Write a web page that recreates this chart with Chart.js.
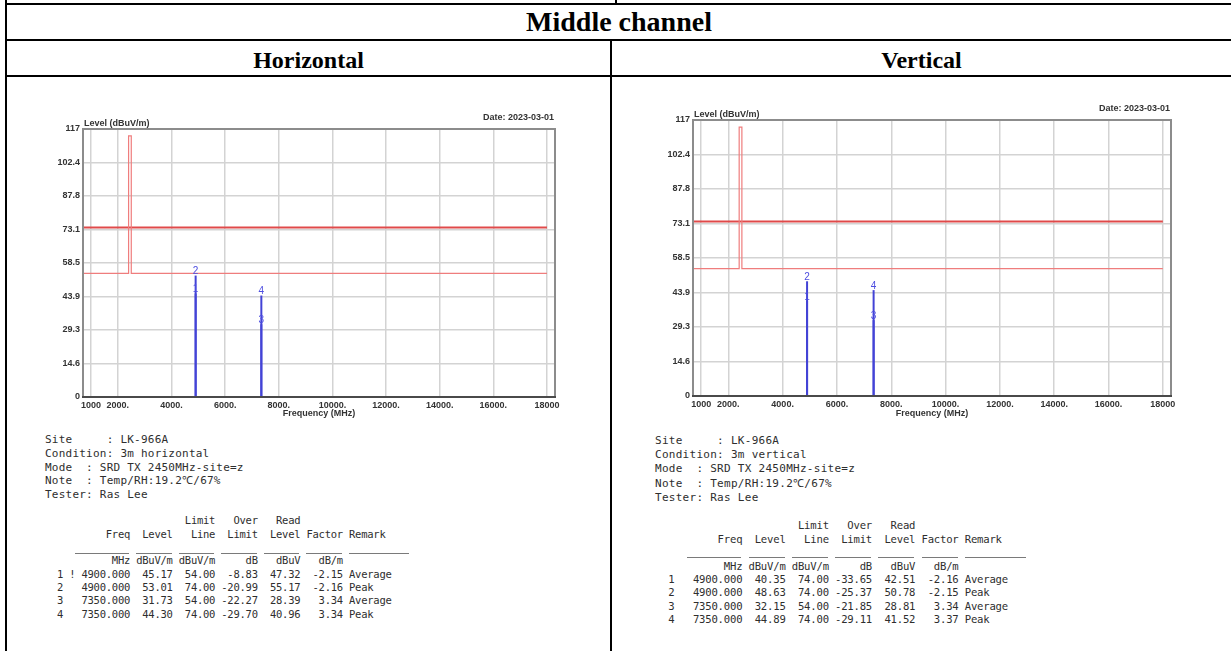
<!DOCTYPE html>
<html>
<head>
<meta charset="utf-8">
<script src="https://cdn.jsdelivr.net/npm/chart.js@4/dist/chart.umd.min.js"></script>
<style>
  html, body { margin: 0; padding: 0; background: #fff; }
  body { width: 1231px; height: 651px; position: relative; overflow: hidden; }
  .rule { position: absolute; background: #000; }
  .cap { position: absolute; font-family: "Liberation Serif", "Times New Roman", serif; font-weight: bold; color: #000; text-align: center; line-height: 1; white-space: nowrap; }
  canvas { position: absolute; }
  pre { position: absolute; margin: 0; font-family: "DejaVu Sans Mono", "Liberation Mono", monospace; color: #2e2e2e; white-space: pre; }
  .colrule { position: absolute; height: 1px; background: #7a7a7a; }
</style>
</head>
<body>
<!-- report table frame -->
<div class="rule" style="left:5px;top:0;width:2px;height:651px"></div>
<div class="rule" style="left:5px;top:3px;width:1226px;height:2px"></div>
<div class="rule" style="left:5px;top:39px;width:1226px;height:2px"></div>
<div class="rule" style="left:5px;top:75px;width:1226px;height:2px"></div>
<div class="rule" style="left:615px;top:0;width:2px;height:4px"></div>
<div class="rule" style="left:610px;top:40px;width:2px;height:611px"></div>

<div class="cap" style="left:7px;width:1224px;top:8px;font-size:28px">Middle channel</div>
<div class="cap" style="left:7px;width:603px;top:48px;font-size:24px">Horizontal</div>
<div class="cap" style="left:612px;width:619px;top:48px;font-size:24px">Vertical</div>

<canvas id="chartH" width="545" height="325" style="left:30px;top:100px"></canvas>
<canvas id="chartV" width="545" height="335" style="left:640px;top:90px"></canvas>

<pre id="infoH" style="left:45px;top:433px;font-size:11px;letter-spacing:0.23px;line-height:13.75px"></pre>
<pre id="infoV" style="left:655px;top:433.5px;font-size:11px;letter-spacing:0.28px;line-height:14.4px"></pre>
<pre id="tableH" style="left:51px;top:514.3px;font-size:10.5px;letter-spacing:-0.24px;line-height:13.35px"></pre>
<pre id="tableV" style="left:662px;top:519.3px;font-size:10.6px;letter-spacing:-0.2px;line-height:13.4px"></pre>

<script>
// Axis ticks
const xTickValues = [1000, 2000, 4000, 6000, 8000, 10000, 12000, 14000, 16000, 18000];
const xTickLabels = ['1000', '2000.', '4000.', '6000.', '8000.', '10000.', '12000.', '14000.', '16000.', '18000'];
const yTickValues = [0, 14.625, 29.25, 43.875, 58.5, 73.125, 87.75, 102.375, 117];
const yTickLabels = ['0', '14.6', '29.3', '43.9', '58.5', '73.1', '87.8', '102.4', '117'];

// Limit lines (MHz / dBuV/m)
const peakLimitFreq = [700, 18000];
const peakLimitLevel = [74, 74];
const avgLimitFreq = [700, 2400, 2400, 2500, 2500, 18000];
const avgLimitLevel = [54, 54, 114, 114, 54, 54];

// Marker readings, horizontal polarisation
const markerNo = ['1', '2', '3', '4'];
const markerFlagH = ['!', '', '', ''];
const markerFlagV = ['', '', '', ''];
const remark = ['Average', 'Peak', 'Average', 'Peak'];
const freqH = [4900, 4900, 7350, 7350];
const levelH = [45.17, 53.01, 31.73, 44.30];
const limitH = [54.00, 74.00, 54.00, 74.00];
const overH = [-8.83, -20.99, -22.27, -29.70];
const readH = [47.32, 55.17, 28.39, 40.96];
const factorH = [-2.15, -2.16, 3.34, 3.34];

// Marker readings, vertical polarisation
const freqV = [4900, 4900, 7350, 7350];
const levelV = [40.35, 48.63, 32.15, 44.89];
const limitV = [74.00, 74.00, 54.00, 74.00];
const overV = [-33.65, -25.37, -21.85, -29.11];
const readV = [42.51, 50.78, 28.81, 41.52];
const factorV = [-2.16, -2.15, 3.34, 3.37];

const chartFont = '"Liberation Sans", Arial, sans-serif';
const textColor = '#333';

const decorPlugin = {
  id: 'decor',
  afterDraw(chart, args, opts) {
    const { ctx, chartArea: a } = chart;
    const xs = chart.scales.x, ys = chart.scales.y;
    ctx.save();
    // plot frame
    ctx.lineWidth = 2;
    ctx.strokeStyle = '#8c8c8c';
    ctx.strokeRect(a.left, a.top, a.right - a.left, a.bottom - a.top);
    ctx.strokeStyle = '#4a4a4a';
    ctx.beginPath();
    ctx.moveTo(a.left - 1, a.bottom);
    ctx.lineTo(a.right + 1, a.bottom);
    ctx.stroke();
    // header texts
    ctx.fillStyle = textColor;
    ctx.font = 'bold 9px ' + chartFont;
    ctx.textBaseline = 'middle';
    ctx.textAlign = 'left';
    ctx.fillText('Level (dBuV/m)', a.left + 1, a.top - 5);
    ctx.textAlign = 'right';
    ctx.fillText('Date: 2023-03-01', a.right - 1, a.top - 11);
    // marker numbers
    ctx.fillStyle = '#4d4de0';
    ctx.font = '10px ' + chartFont;
    ctx.textAlign = 'center';
    ctx.textBaseline = 'bottom';
    opts.freq.forEach((f, i) => {
      ctx.fillText(markerNo[i], xs.getPixelForValue(f), ys.getPixelForValue(opts.level[i]) + 1);
    });
    ctx.restore();
  }
};

function pairs(xv, yv) {
  return xv.map((x, i) => ({ x: x, y: yv[i] }));
}

function buildChart(id, freq, level, g) {
  const datasets = [
    { data: pairs(avgLimitFreq, avgLimitLevel), borderColor: '#ef7d7d', borderWidth: 1.2 },
    { data: pairs(peakLimitFreq, peakLimitLevel), borderColor: '#e04a4a', borderWidth: 2 }
  ];
  freq.forEach((f, i) => {
    datasets.push({ data: [{ x: f, y: 0 }, { x: f, y: level[i] }], borderColor: '#4343d6', borderWidth: 2 });
  });
  datasets.forEach(d => { d.showLine = true; d.pointRadius = 0; d.fill = false; });

  const tickFont = { family: chartFont, size: 9, weight: 'bold' };
  return new Chart(document.getElementById(id), {
    type: 'scatter',
    data: { datasets },
    options: {
      responsive: false,
      animation: false,
      events: [],
      layout: { padding: { top: g.top, right: g.right, left: 0, bottom: 0 } },
      plugins: {
        legend: { display: false },
        tooltip: { enabled: false },
        decor: { freq: freq, level: level }
      },
      scales: {
        x: {
          type: 'linear', min: 700, max: 18300,
          afterBuildTicks: s => { s.ticks = xTickValues.map(v => ({ value: v })); },
          afterFit: s => { s.height = g.xh; },
          ticks: { autoSkip: false, maxRotation: 0, padding: 3, font: tickFont, color: textColor,
                   callback: (v, i) => xTickLabels[i] },
          grid: { color: '#d3d3d3', lineWidth: 1.5, drawTicks: false },
          border: { display: false },
          title: { display: true, text: 'Frequency (MHz)', color: textColor, font: tickFont,
                   padding: { top: 0, bottom: 6 } }
        },
        y: {
          type: 'linear', min: 0, max: 117,
          afterBuildTicks: s => { s.ticks = yTickValues.map(v => ({ value: v })); },
          afterFit: s => { s.width = g.yw; },
          ticks: { autoSkip: false, padding: 3, font: tickFont, color: textColor,
                   callback: (v, i) => yTickLabels[i] },
          grid: { color: '#d3d3d3', lineWidth: 1.5, drawTicks: false },
          border: { display: false }
        }
      }
    },
    plugins: [decorPlugin]
  });
}

buildChart('chartH', freqH, levelH, { top: 29, right: 20, yw: 53, xh: 28 });
buildChart('chartV', freqV, levelV, { top: 30, right: 14, yw: 53, xh: 29 });

// Text blocks below the plots
function infoLines(cond) {
  return [
    'Site     : LK-966A',
    'Condition: ' + cond,
    'Mode  : SRD TX 2450MHz-site=z',
    'Note  : Temp/RH:19.2\u2103/67%',
    'Tester: Ras Lee'
  ].join('\n');
}

// column rules under the table header: [start column, width in characters]
const ruleSegments = [[4, 9], [14, 6], [21, 6], [28, 6], [35, 6], [42, 6], [49, 10]];

function tableText(flag, freq, level, limit, over, read, factor) {
  const p = (v, n) => String(v).padStart(n);
  const lines = [
    '                      Limit   Over   Read',
    '         Freq  Level   Line  Limit  Level Factor Remark',
    '',
    '          MHz dBuV/m dBuV/m     dB   dBuV   dB/m'
  ];
  freq.forEach((f, i) => {
    lines.push(' ' + markerNo[i] + ' ' + (flag[i] || ' ') + ' ' + p(f.toFixed(3), 8) +
      p(level[i].toFixed(2), 7) + p(limit[i].toFixed(2), 7) + p(over[i].toFixed(2), 7) +
      p(read[i].toFixed(2), 7) + p(factor[i].toFixed(2), 7) + ' ' + remark[i]);
  });
  return lines.join('\n');
}

function fillTable(id, pitch, ruleTop, flag, freq, level, limit, over, read, factor) {
  const el = document.getElementById(id);
  el.textContent = tableText(flag, freq, level, limit, over, read, factor);
  ruleSegments.forEach(([start, width]) => {
    const r = document.createElement('div');
    r.className = 'colrule';
    r.style.left = (start * pitch).toFixed(1) + 'px';
    r.style.width = (width * pitch - 1).toFixed(1) + 'px';
    r.style.top = ruleTop + 'px';
    el.appendChild(r);
  });
}

document.getElementById('infoH').textContent = infoLines('3m horizontal');
document.getElementById('infoV').textContent = infoLines('3m vertical');
fillTable('tableH', 6.081, 38.5, markerFlagH, freqH, levelH, limitH, overH, readH, factorH);
fillTable('tableV', 6.182, 37.4, markerFlagV, freqV, levelV, limitV, overV, readV, factorV);
</script>
</body>
</html>
